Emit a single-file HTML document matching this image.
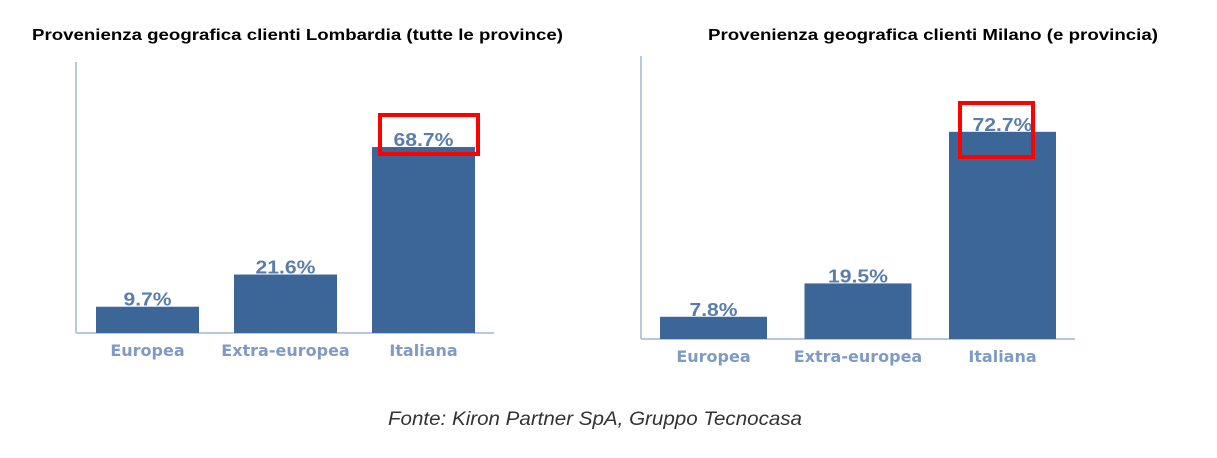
<!DOCTYPE html>
<html><head><meta charset="utf-8"><style>
body{margin:0;background:#fff;width:1217px;height:458px;overflow:hidden;font-family:"Liberation Sans",sans-serif}
svg{position:absolute;left:0;top:0}
</style></head><body>
<svg width="1217" height="458">
<text x="32" y="40" font-size="16" font-weight="bold" fill="#000" textLength="531" lengthAdjust="spacingAndGlyphs">Provenienza geografica clienti Lombardia (tutte le province)</text>
<text x="708" y="40" font-size="16" font-weight="bold" fill="#000" textLength="450" lengthAdjust="spacingAndGlyphs">Provenienza geografica clienti Milano (e provincia)</text>
<g id="c1"></g><g id="c2"></g>
<text x="388" y="425" font-size="19" font-style="italic" fill="#333" textLength="414" lengthAdjust="spacingAndGlyphs">Fonte: Kiron Partner SpA, Gruppo Tecnocasa</text>
</svg>
<script>
const categories=["Europea","Extra-europea","Italiana"];
const lombardiaValues=[9.7,21.6,68.7];
const milanoValues=[7.8,19.5,72.7];
const NS="http://www.w3.org/2000/svg";
function mk(p,t,a){const e=document.createElementNS(NS,t);for(const k in a)e.setAttribute(k,a[k]);p.appendChild(e);return e;}
function draw(gid,vals,cfg){
 const g=document.getElementById(gid);
 const y=v=>cfg.base-v*cfg.scale;
 const ya=mk(g,"line",{x1:cfg.ax,x2:cfg.ax,y1:cfg.top,y2:cfg.base,stroke:"#b8c8de","stroke-width":2});
 
 
 const xa=mk(g,"line",{x1:cfg.ax,x2:cfg.axEnd,y1:cfg.base,y2:cfg.base,stroke:"#b8c8de","stroke-width":2});
 
 
 vals.forEach((v,i)=>{
  const x=cfg.x0+i*cfg.step;
  const r=mk(g,"rect",{x:x,y:y(v),width:cfg.bw,height:cfg.base-y(v),fill:"#3d6698"});
  
  
  const label=v.toFixed(1)+"%";
  const t=mk(g,"text",{x:x+cfg.bw/2,y:y(v)-1,"text-anchor":"middle","font-size":18,"font-weight":"bold",fill:"#5a7dab",textLength:label.length*12,lengthAdjust:"spacingAndGlyphs"});
  t.textContent=label;
  
  
  const c=mk(g,"text",{x:x+cfg.bw/2,y:cfg.base+23,"text-anchor":"middle","font-size":16,"font-weight":"bold",fill:"#7f9bc3","font-family":"DejaVu Sans, sans-serif"});
  c.textContent=categories[i];
  
  
  if(i===vals.length-1){
   const b=mk(g,"rect",{x:cfg.box[0],y:cfg.box[1],width:cfg.box[2],height:cfg.box[3],fill:"none",stroke:"#ff0000","stroke-width":4});
   
   
  }
 });
}
draw("c1",lombardiaValues,{ax:76,axEnd:494,top:62,base:333,scale:2.707,x0:96,step:138,bw:103,box:[380,115,98,39]});
draw("c2",milanoValues,{ax:641,axEnd:1075,top:56,base:339,scale:2.85,x0:660,step:144.5,bw:107,box:[960,103,73,54]});
</script>
</body></html>
